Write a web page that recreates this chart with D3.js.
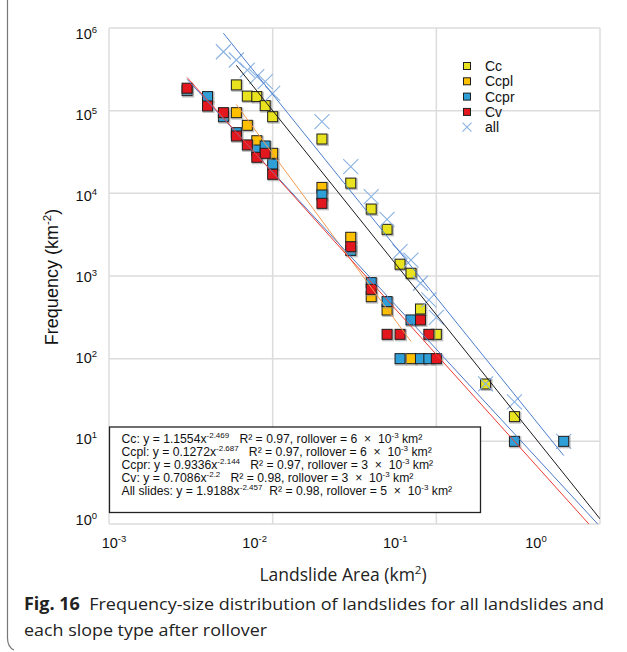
<!DOCTYPE html>
<html lang="en">
	<head>
		<meta charset="UTF-8" />
		<title>Fig. 16 Frequency-size distribution</title>
		<script src="https://d3js.org/d3.v7.min.js"></script>
		<style>
			body {
				margin: 0;
				background: #fff;
			}
			svg {
				font-family: "Liberation Sans", Arial, sans-serif;
			}
			.grid line {
				stroke: #dcdcdc;
				stroke-width: 1.5px;
			}
			.caption {
				font-family: "Open Sans", "Noto Sans", sans-serif;
			}
		</style>
	</head>
	<body>
		<svg width="627" height="652"></svg>

		<script>
			const width = 627;
			const height = 652;

			// series (area in km2, frequency in km-2)
			const ccX = [0.006, 0.007, 0.008, 0.009, 0.01, 0.02, 0.03, 0.04, 0.05, 0.06, 0.07, 0.08, 0.1, 0.2, 0.3];
			const ccY = [2.05e5, 1.5e5, 1.48e5, 1.15e5, 8.45e4, 4.54e4, 1.33e4, 6.46e3, 3.67e3, 1.39e3, 1.08e3, 399, 197, 49.4, 19.9];

			const ccplX = [0.006, 0.007, 0.008, 0.01, 0.02, 0.03, 0.04, 0.05, 0.07];
			const ccplY = [9.46e4, 6.65e4, 4.33e4, 3.05e4, 1.18e4, 2.94e3, 562, 388, 100];

			const ccprX = [0.003, 0.004, 0.005, 0.006, 0.008, 0.009, 0.01, 0.02, 0.03, 0.04, 0.05, 0.06, 0.07, 0.08, 0.09, 0.3, 0.6];
			const ccprY = [1.75e5, 1.48e5, 8.45e4, 5.42e4, 3.34e4, 3.74e4, 2.26e4, 9.55e3, 2.04e3, 832, 490, 100, 294, 100, 100, 10, 10];

			const cvX = [0.003, 0.004, 0.005, 0.006, 0.007, 0.008, 0.009, 0.01, 0.02, 0.03, 0.04, 0.05, 0.06, 0.08, 0.09, 0.1];
			const cvY = [1.87e5, 1.14e5, 9.46e4, 4.94e4, 3.85e4, 2.73e4, 3.05e4, 1.7e4, 7.57e3, 2.26e3, 690, 197, 197, 294, 197, 100];

			const allX = [0.005, 0.006, 0.007, 0.008, 0.009, 0.01, 0.02, 0.03, 0.04, 0.05, 0.06, 0.07, 0.08, 0.09, 0.1, 0.2, 0.3, 0.6];
			const allY = [5.16e5, 4.1e5, 3.1e5, 2.58e5, 2.24e5, 1.62e5, 7.36e4, 2.1e4, 9.1e3, 4.85e3, 1.97e3, 1.56e3, 817, 513, 316, 49.4, 30, 10];

			// power-law fits y = a x^-b, drawn from rollover onwards
			const fitNames = ["Cc", "Ccpl", "Ccpr", "Cv", "all"];
			const fitA = [1.1554, 0.1272, 0.9336, 0.7086, 1.9188];
			const fitB = [2.469, 2.687, 2.144, 2.2, 2.457];
			const fitFrom = [0.006, 0.006, 0.003, 0.003, 0.005];
			const fitTo = [1, 0.07, 1, 1, 0.6];

			const xTicks = [1e-3, 1e-2, 1e-1, 1];
			const yTicks = [1, 10, 100, 1e3, 1e4, 1e5, 1e6];

			const legendNames = ["Cc", "Ccpl", "Ccpr", "Cv", "all"];

			const fitText = [
				["Cc: y = 1.1554x", "-2.469", "   R\u00b2 = 0.97, rollover = 6 \u00a0\u00d7\u00a0 10", "-3", " km\u00b2"],
				["Ccpl: y = 0.1272x", "-2.687", "   R\u00b2 = 0.97, rollover = 6 \u00a0\u00d7\u00a0 10", "-3", " km\u00b2"],
				["Ccpr: y = 0.9336x", "-2.144", "   R\u00b2 = 0.97, rollover = 3 \u00a0\u00d7\u00a0 10", "-3", " km\u00b2"],
				["Cv: y = 0.7086x", "-2.2", "   R\u00b2 = 0.98, rollover = 3 \u00a0\u00d7\u00a0 10", "-3", " km\u00b2"],
				["All slides: y = 1.9188x", "-2.457", "  R\u00b2 = 0.98, rollover = 5 \u00a0\u00d7\u00a0 10", "-3", " km\u00b2"],
			];

			const color = d3
				.scaleOrdinal()
				.domain(["Cc", "Ccpl", "Ccpr", "Cv", "all"])
				.range(["#e9e21f", "#ffc000", "#2f9fd8", "#e3171e", "#8ab2e2"]);

			const lineColor = d3
				.scaleOrdinal()
				.domain(fitNames)
				.range(["#1a1a1a", "#f39a52", "#4a78c8", "#ee3b33", "#4a7dcc"]);

			const x = d3.scaleLog().domain([1e-3, 1]).range([109, 600]);
			const y = d3.scaleLog().domain([1, 1e6]).range([524, 28]);

			// tick labels sit slightly off the grid in the original
			const xLab = d3.scaleLog().domain([1e-3, 1]).range([114, 536]);
			const yLab = d3.scaleLog().domain([1, 1e6]).range([520, 34]);

			const svg = d3.select("svg");

			// figure frame (left edge with rounded corner)
			svg
				.append("path")
				.attr("d", "M7.5,0 V638 Q7.5,647 14,650")
				.attr("fill", "none")
				.attr("stroke", "#777")
				.attr("stroke-width", 1.2);

			// grid and plot border
			const grid = svg.append("g").attr("class", "grid");
			grid
				.selectAll(".gx")
				.data(xTicks)
				.join("line")
				.attr("x1", (d) => x(d))
				.attr("x2", (d) => x(d))
				.attr("y1", y(1e6))
				.attr("y2", y(1));
			grid
				.selectAll(".gy")
				.data(yTicks)
				.join("line")
				.attr("x1", x(1e-3))
				.attr("x2", x(1))
				.attr("y1", (d) => y(d))
				.attr("y2", (d) => y(d));

			svg
				.append("clipPath")
				.attr("id", "plot")
				.append("rect")
				.attr("x", x(1e-3))
				.attr("y", y(1e6))
				.attr("width", x(1) - x(1e-3))
				.attr("height", y(1) - y(1e6));

			// tick labels
			const sup = (sel, base, exp) => {
				sel.append("tspan").text(base);
				sel.append("tspan").attr("dy", -6).style("font-size", "9.5px").text(exp);
			};

			svg
				.append("g")
				.selectAll("text")
				.data(xTicks)
				.join("text")
				.attr("x", (d) => xLab(d))
				.attr("y", 548)
				.attr("text-anchor", "middle")
				.style("font-size", "14.5px")
				.style("fill", "#111")
				.each(function (d) {
					sup(d3.select(this), "10", String(Math.round(Math.log10(d))));
				});

			svg
				.append("g")
				.selectAll("text")
				.data(yTicks)
				.join("text")
				.attr("x", 97)
				.attr("y", (d) => yLab(d) + 5)
				.attr("text-anchor", "end")
				.style("font-size", "14.5px")
				.style("fill", "#111")
				.each(function (d) {
					sup(d3.select(this), "10", String(Math.round(Math.log10(d))));
				});

			// axis titles
			const yTitle = svg
				.append("text")
				.attr("transform", "translate(58,277) rotate(-90)")
				.attr("text-anchor", "middle")
				.style("font-size", "18px")
				.style("fill", "#111");
			yTitle.append("tspan").text("Frequency (km");
			yTitle.append("tspan").attr("dy", -7).style("font-size", "11.5px").text("-2");
			yTitle.append("tspan").attr("dy", 7).text(")");

			const xTitle = svg
				.append("text")
				.attr("class", "caption")
				.attr("x", 343)
				.attr("y", 581)
				.attr("text-anchor", "middle")
				.style("font-size", "17.5px")
				.style("fill", "#222");
			xTitle.append("tspan").text("Landslide Area (km");
			xTitle.append("tspan").attr("dy", -7).style("font-size", "11.5px").text("2");
			xTitle.append("tspan").attr("dy", 7).text(")");

			// markers, in the original stacking order
			const square = 10;
			const squares = (name, xs, ys) => {
				const g = svg.append("g");
				const pts = xs.map((v, i) => [v, ys[i]]);
				g.selectAll(".sh")
					.data(pts)
					.join("rect")
					.attr("x", (d) => x(d[0]) - square / 2)
					.attr("y", (d) => y(d[1]) - square / 2)
					.attr("width", square + 2)
					.attr("height", square + 2)
					.attr("fill", "#8c8c8c")
					.attr("opacity", 0.55);
				g.selectAll(".pt")
					.data(pts)
					.join("rect")
					.attr("x", (d) => x(d[0]) - square / 2)
					.attr("y", (d) => y(d[1]) - square / 2)
					.attr("width", square)
					.attr("height", square)
					.attr("fill", color(name))
					.attr("stroke", "#1e1e1e")
					.attr("stroke-width", 1);
			};

			const crosses = (xs, ys, s) => {
				svg
					.append("g")
					.selectAll("path")
					.data(xs.map((v, i) => [v, ys[i]]))
					.join("path")
					.attr("d", (d) => {
						const cx = x(d[0]);
						const cy = y(d[1]);
						return `M${cx - s},${cy - s}L${cx + s},${cy + s}M${cx - s},${cy + s}L${cx + s},${cy - s}`;
					})
					.attr("stroke", color("all"))
					.attr("stroke-width", 1.1)
					.attr("fill", "none");
			};

			squares("Cc", ccX, ccY);
			crosses(allX, allY, 7.5);
			squares("Ccpl", ccplX, ccplY);
			squares("Ccpr", ccprX, ccprY);
			squares("Cv", cvX, cvY);

			// trend lines
			const fitLine = d3
				.line()
				.x((d) => x(d[0]))
				.y((d) => y(d[1]));

			svg
				.append("g")
				.attr("clip-path", "url(#plot)")
				.selectAll("path")
				.data(fitNames.map((n, i) => ({ name: n, i: i })))
				.join("path")
				.attr("d", (d) => {
					const a = fitA[d.i];
					const b = fitB[d.i];
					return fitLine([
						[fitFrom[d.i], a * Math.pow(fitFrom[d.i], -b)],
						[fitTo[d.i], a * Math.pow(fitTo[d.i], -b)],
					]);
				})
				.attr("fill", "none")
				.attr("stroke", (d) => lineColor(d.name))
				.attr("stroke-width", 1);

			// legend
			const legend = svg.append("g").attr("transform", "translate(467,66)");
			const row = legend
				.selectAll("g")
				.data(legendNames)
				.join("g")
				.attr("transform", (d, i) => `translate(0,${i * 15.3})`);
			row
				.filter((d) => d !== "all")
				.append("rect")
				.attr("x", -3.5)
				.attr("y", -3.5)
				.attr("width", 7)
				.attr("height", 7)
				.attr("fill", (d) => color(d))
				.attr("stroke", "#1e1e1e")
				.attr("stroke-width", 1);
			row
				.filter((d) => d === "all")
				.append("path")
				.attr("d", "M-4.5,-4.5L4.5,4.5M-4.5,4.5L4.5,-4.5")
				.attr("stroke", color("all"))
				.attr("stroke-width", 1.1);
			row
				.append("text")
				.attr("x", 18)
				.attr("y", 5)
				.style("font-size", "14px")
				.style("fill", "#111")
				.text((d) => d);

			// fit equations box
			svg
				.append("rect")
				.attr("x", 109.5)
				.attr("y", 427)
				.attr("width", 371)
				.attr("height", 85.5)
				.attr("fill", "#fff")
				.attr("stroke", "#222")
				.attr("stroke-width", 1.3);

			const eq = svg
				.append("g")
				.selectAll("text")
				.data(fitText)
				.join("text")
				.attr("x", 121.5)
				.attr("y", (d, i) => 442.5 + i * 13)
				.style("font-size", "12.2px")
				.style("fill", "#111")
				.style("white-space", "pre");
			eq.each(function (d) {
				const t = d3.select(this);
				t.append("tspan").text(d[0]);
				t.append("tspan").attr("dy", -4.5).style("font-size", "8px").text(d[1]);
				t.append("tspan").attr("dy", 4.5).text(d[2]);
				t.append("tspan").attr("dy", -4.5).style("font-size", "8px").text(d[3]);
				t.append("tspan").attr("dy", 4.5).text(d[4]);
			});

			// caption
			const cap1 = svg
				.append("text")
				.attr("class", "caption")
				.attr("x", 24)
				.attr("y", 610)
				.style("font-size", "17px")
				.style("fill", "#222");
			cap1.append("tspan").style("font-weight", "bold").text("Fig. 16");
			cap1.append("tspan").text("\u00a0\u00a0Frequency-size distribution of landslides for all landslides and");
			cap1.attr("textLength", 580).attr("lengthAdjust", "spacingAndGlyphs");
			svg
				.append("text")
				.attr("class", "caption")
				.attr("x", 24)
				.attr("y", 636)
				.attr("textLength", 243)
				.attr("lengthAdjust", "spacingAndGlyphs")
				.style("font-size", "17px")
				.style("fill", "#222")
				.text("each slope type after rollover");
		</script>
	</body>
</html>
